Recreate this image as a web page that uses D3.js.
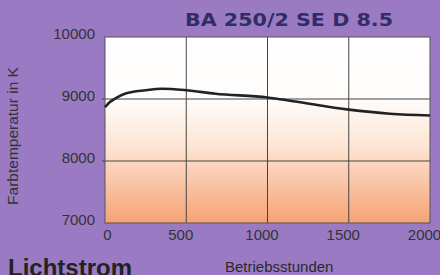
<!DOCTYPE html>
<html>
<head>
<meta charset="utf-8">
<script src="https://cdn.jsdelivr.net/npm/d3@7"></script>
<style>
  html, body { margin: 0; padding: 0; background: #9a7bc3; }
  svg { display: block; }
</style>
</head>
<body>
<div id="chart"></div>
<script>
// Betriebsstunden / Farbtemperatur in K
const hours = [0, 30, 64, 126, 249, 351, 500, 679, 1000, 1158, 1500, 1754, 2000];
const kelvin = [8870, 8950, 9010, 9087, 9141, 9165, 9141, 9085, 9025, 8965, 8828, 8763, 8735];
const xTicks = [0, 500, 1000, 1500, 2000];
const yTicks = [7000, 8000, 9000, 10000];

const titleText = "BA 250/2 SE D 8.5";
const xTitle = "Betriebsstunden";
const yTitle = "Farbtemperatur in K";
const footText = "Lichtstrom";

function drawChart(selector) {
    const W = 440, H = 275;
    const margin = {top: 37, right: 10, bottom: 52, left: 105};
    const width = W - margin.left - margin.right,
          height = H - margin.top - margin.bottom;

    d3.select(selector).selectAll("*").remove();

    const svg = d3.select(selector)
        .append("svg")
        .attr("width", W)
        .attr("height", H);

    svg.append("rect").attr("width", W).attr("height", H).attr("fill", "#9a7bc3");

    const defs = svg.append("defs");
    const grad = defs.append("linearGradient")
        .attr("id", "bg").attr("x1", 0).attr("y1", 0).attr("x2", 0).attr("y2", 1);
    grad.append("stop").attr("offset", "0%").attr("stop-color", "#ffffff");
    grad.append("stop").attr("offset", "33%").attr("stop-color", "#fffdfb");
    grad.append("stop").attr("offset", "60%").attr("stop-color", "#fde3d1");
    grad.append("stop").attr("offset", "100%").attr("stop-color", "#f5a274");

    const g = svg.append("g")
        .attr("transform", `translate(${margin.left},${margin.top})`);

    const x = d3.scaleLinear().domain([0, 2000]).range([0, width]);
    const y = d3.scaleLinear().domain([7000, 10000]).range([height, 0]);

    g.append("rect")
        .attr("width", width).attr("height", height)
        .attr("fill", "url(#bg)");

    // grid
    g.append("g")
        .selectAll("line")
        .data(xTicks.slice(1, -1))
        .join("line")
        .attr("x1", d => x(d)).attr("x2", d => x(d))
        .attr("y1", 0).attr("y2", height)
        .attr("stroke", "#444").attr("stroke-width", 1);

    g.append("g")
        .selectAll("line")
        .data(yTicks.slice(1, -1))
        .join("line")
        .attr("x1", -3).attr("x2", width)
        .attr("y1", d => y(d)).attr("y2", d => y(d))
        .attr("stroke", "#444").attr("stroke-width", 1);

    // frame
    g.append("rect")
        .attr("width", width).attr("height", height)
        .attr("fill", "none").attr("stroke", "#555").attr("stroke-width", 1);

    // axes labels
    const yAxis = g.append("g")
        .call(d3.axisLeft(y).tickValues(yTicks).tickSize(0).tickPadding(10).tickFormat(d3.format("d")));
    yAxis.select(".domain").remove();
    yAxis.selectAll("text")
        .attr("dy", "0.1em")
        .attr("font-family", "Liberation Sans, Arial, sans-serif")
        .attr("font-size", 15).attr("fill", "#333");

    const xAxis = g.append("g")
        .attr("transform", `translate(0,${height})`)
        .call(d3.axisBottom(x).tickValues(xTicks).tickSize(0).tickPadding(6).tickFormat(d3.format("d")));
    xAxis.select(".domain").remove();
    xAxis.selectAll("text")
        .attr("dx", d => d === 0 ? 2 : -6)
        .attr("font-family", "Liberation Sans, Arial, sans-serif")
        .attr("font-size", 15).attr("fill", "#333");

    // curve
    g.append("path")
        .datum(hours.map((h, i) => ({h: h, k: kelvin[i]})))
        .attr("fill", "none")
        .attr("stroke", "#222")
        .attr("stroke-width", 2.6)
        .attr("d", d3.line()
            .x(d => x(d.h))
            .y(d => y(d.k))
            .curve(d3.curveMonotoneX));

    svg.append("text")
        .attr("x", 185).attr("y", 26)
        .attr("textLength", 208).attr("lengthAdjust", "spacingAndGlyphs")
        .attr("font-family", "DejaVu Sans, sans-serif")
        .attr("font-weight", "bold")
        .attr("font-size", 18)
        .attr("fill", "#2f2d63")
        .text(titleText);

    svg.append("text")
        .attr("transform", "translate(18,136) rotate(-90)")
        .attr("text-anchor", "middle")
        .attr("font-family", "Liberation Sans, Arial, sans-serif")
        .attr("font-size", 15.5).attr("fill", "#333")
        .text(yTitle);

    svg.append("text")
        .attr("x", 225).attr("y", 272)
        .attr("font-family", "Liberation Sans, Arial, sans-serif")
        .attr("font-size", 15).attr("fill", "#2a2a2a")
        .text(xTitle);

    svg.append("text")
        .attr("x", 8).attr("y", 276)
        .attr("font-family", "Liberation Sans, Arial, sans-serif")
        .attr("font-weight", "bold")
        .attr("font-size", 24).attr("fill", "#222")
        .text(footText);
}

drawChart("#chart");
</script>
</body>
</html>
